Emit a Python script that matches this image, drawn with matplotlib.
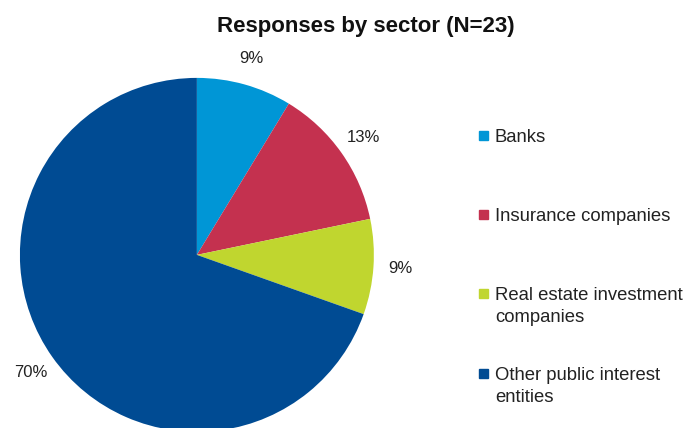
import matplotlib.pyplot as plt
from matplotlib.patches import Rectangle

plt.rcParams['font.family'] = ['Liberation Sans', 'DejaVu Sans']

# responses per sector
sectors = ["Banks", "Insurance companies", "Real estate investment\ncompanies",
           "Other public interest\nentities"]
counts = [2, 3, 2, 16]
colors = ["#0096d6", "#c4314f", "#c0d62f", "#004b93"]

W, H = 686, 428
fig = plt.figure(figsize=(W / 100, H / 100), dpi=100)

ax = fig.add_axes([0.029, -0.009, 0.516, 0.827])
ax.pie(counts, colors=colors, startangle=90, counterclock=False,
       autopct='%.0f%%', pctdistance=1.15, radius=1,
       wedgeprops=dict(linewidth=0), textprops=dict(fontsize=12, color="#222222"))
ax.set_xlim(-1, 1)
ax.set_ylim(-1, 1)
ax.set_aspect('equal')
ax.axis('off')

fig.text(366 / W, 1 - 32 / H, "Responses by sector (N=23)", ha='center', va='baseline',
         fontsize=16, fontweight='bold', color="#111111")

# legend drawn by hand so the squares sit beside the first line
baselines = [142, 221, 300, 380]
line_gap = 22
for name, col, yb in zip(sectors, colors, baselines):
    fig.patches.append(Rectangle((479 / W, 1 - (yb - 2) / H), 9 / W, 9 / H,
                                 transform=fig.transFigure, color=col))
    for i, line in enumerate(name.split("\n")):
        fig.text(495 / W, 1 - (yb + i * line_gap) / H, line, ha='left', va='baseline',
                 fontsize=13.3, color="#222222")

fig.savefig("out.png", dpi=100)
